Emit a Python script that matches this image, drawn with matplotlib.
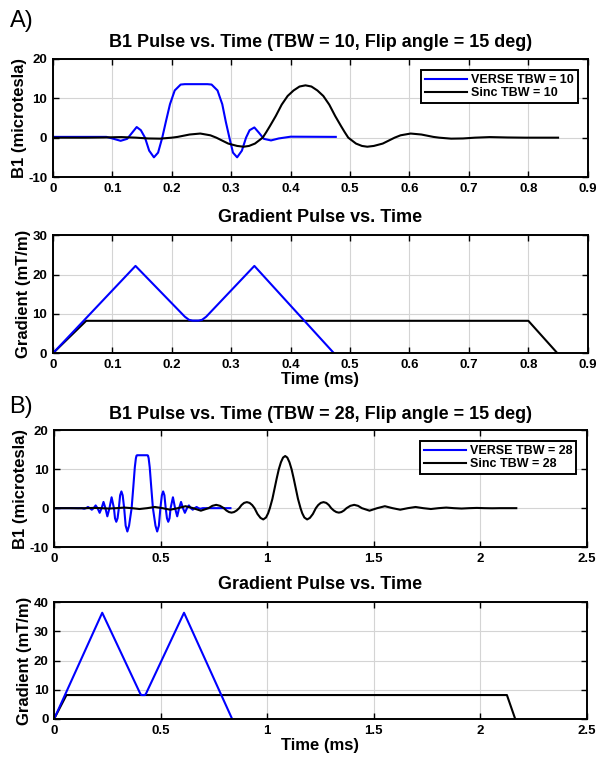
import matplotlib
matplotlib.use("Agg")
import matplotlib.pyplot as plt

plt.rcParams['font.family'] = ['Liberation Sans', 'DejaVu Sans']

# ---------------- panel A data (TBW = 10) ----------------
# VERSE B1 pulse
versA_t = [0.0, 0.09, 0.10, 0.114, 0.125, 0.133, 0.141, 0.148, 0.155, 0.162, 0.170,
           0.177, 0.184, 0.190, 0.197, 0.205, 0.215, 0.222, 0.260, 0.267, 0.277,
           0.285, 0.291, 0.297, 0.303, 0.310, 0.318, 0.325, 0.331, 0.339, 0.347,
           0.355, 0.367, 0.380, 0.400, 0.476]
versA_b1 = [0.2, 0.2, -0.2, -0.8, -0.3, 1.2, 2.7, 1.9, 0.0, -3.3, -5.0,
            -3.8, 0.0, 4.0, 8.5, 12.0, 13.5, 13.6, 13.6, 13.5, 12.0,
            8.5, 4.0, 0.0, -3.8, -5.0, -3.3, 0.0, 1.9, 2.6, 1.2,
            -0.3, -0.7, -0.2, 0.25, 0.2]

# sinc B1 pulse
sincA_t = [0.0, 0.055, 0.085, 0.115, 0.14, 0.16, 0.18, 0.20, 0.21, 0.23, 0.248,
           0.265, 0.275, 0.295, 0.31, 0.321, 0.33, 0.34, 0.353, 0.359, 0.365,
           0.375, 0.385, 0.395, 0.405, 0.415, 0.425, 0.435, 0.445, 0.455, 0.465,
           0.475, 0.485, 0.491, 0.497, 0.51, 0.52, 0.529, 0.54, 0.555, 0.575,
           0.585, 0.602, 0.62, 0.64, 0.65, 0.67, 0.69, 0.71, 0.735, 0.765,
           0.795, 0.85]
sincA_b1 = [0.0, 0.0, 0.05, 0.15, 0.0, -0.2, -0.25, 0.0, 0.2, 0.8, 1.05,
            0.6, 0.0, -1.5, -2.1, -2.3, -2.1, -1.5, 0.0, 1.4, 2.9,
            5.5, 8.4, 10.6, 12.0, 13.0, 13.3, 13.0, 12.0, 10.6, 8.4,
            5.5, 2.9, 1.4, 0.0, -1.5, -2.1, -2.3, -2.1, -1.5, 0.0,
            0.6, 1.05, 0.8, 0.2, 0.0, -0.25, -0.2, 0.0, 0.15, 0.05,
            0.0, 0.0]

versA_gt = [0.0, 0.139, 0.222, 0.229, 0.235, 0.245, 0.251, 0.258, 0.339, 0.473]
versA_g = [0.0, 22.2, 9.3, 8.5, 8.3, 8.3, 8.5, 9.3, 22.2, 0.0]
sincA_gt = [0.0, 0.056, 0.80, 0.849]
sincA_g = [0.0, 8.25, 8.25, 0.0]

# ---------------- panel B data (TBW = 28) ----------------
versB_t = [0.0, 0.130, 0.141, 0.150, 0.159, 0.168, 0.177, 0.186, 0.195, 0.204, 0.214,
           0.223, 0.232, 0.241, 0.250, 0.260, 0.270, 0.281, 0.286, 0.292, 0.298,
           0.304, 0.310, 0.316, 0.322, 0.329, 0.336, 0.344, 0.352, 0.364, 0.372,
           0.379, 0.384, 0.387, 0.390, 0.438, 0.441, 0.444, 0.449, 0.456, 0.464,
           0.476, 0.484, 0.492, 0.499, 0.506, 0.512, 0.518, 0.524, 0.530, 0.536,
           0.542, 0.547, 0.558, 0.568, 0.578, 0.587, 0.596, 0.605, 0.614, 0.624,
           0.633, 0.642, 0.651, 0.660, 0.669, 0.678, 0.687, 0.698, 0.828]
versB_b1 = [0.0, 0.0, -0.15, 0.0, 0.3, 0.0, -0.4, 0.0, 0.7, 0.0, -1.2,
            0.0, 1.6, 0.0, -2.1, 0.0, 2.8, 0.0, -2.6, -3.5, -2.6,
            0.0, 3.3, 4.3, 3.3, 0.0, -4.5, -6.0, -4.5, 0.0, 5.5,
            10.5, 12.8, 13.5, 13.6, 13.6, 13.5, 12.8, 10.5, 5.5, 0.0,
            -4.5, -6.0, -4.5, 0.0, 3.3, 4.3, 3.3, 0.0, -2.6, -3.5,
            -2.6, 0.0, 2.8, 0.0, -2.1, 0.0, 1.6, 0.0, -1.2, 0.0,
            0.7, 0.0, -0.4, 0.0, 0.3, 0.0, -0.15, 0.0, 0.0]

sincB_t = [0.0, 0.077, 0.113, 0.149, 0.185, 0.221, 0.257, 0.293, 0.329, 0.365, 0.401,
           0.437, 0.473, 0.509, 0.545, 0.581, 0.617, 0.653, 0.689, 0.725, 0.743,
           0.761, 0.779, 0.797, 0.809, 0.821, 0.833, 0.845, 0.857, 0.869, 0.880,
           0.892, 0.905, 0.918, 0.930, 0.941, 0.955, 0.969, 0.982, 0.995, 1.005,
           1.013, 1.025, 1.035, 1.045, 1.055, 1.065, 1.075, 1.085, 1.095, 1.105,
           1.115, 1.125, 1.135, 1.145, 1.157, 1.165, 1.175, 1.188, 1.201, 1.215,
           1.229, 1.240, 1.252, 1.265, 1.278, 1.290, 1.301, 1.313, 1.325, 1.337,
           1.349, 1.361, 1.373, 1.391, 1.409, 1.427, 1.445, 1.481, 1.517, 1.553,
           1.589, 1.625, 1.661, 1.697, 1.733, 1.769, 1.805, 1.841, 1.877, 1.913,
           1.949, 1.985, 2.021, 2.057, 2.093, 2.170]
sincB_b1 = [0.0, 0.0, -0.03, 0.0, 0.06, 0.0, -0.1, 0.0, 0.15, 0.0, -0.22,
            0.0, 0.3, 0.0, -0.4, 0.0, 0.5, 0.0, -0.65, 0.0, 0.6,
            0.85, 0.6, 0.0, -0.6, -1.0, -1.15, -1.0, -0.6, 0.0, 0.8,
            1.35, 1.55, 1.35, 0.8, 0.0, -1.5, -2.5, -2.9, -2.4, -1.3,
            0.0, 2.4, 5.0, 7.6, 10.0, 11.8, 13.0, 13.4, 13.0, 11.8,
            10.0, 7.6, 5.0, 2.4, 0.0, -1.3, -2.4, -2.9, -2.5, -1.5,
            0.0, 0.8, 1.35, 1.55, 1.35, 0.8, 0.0, -0.6, -1.0, -1.15,
            -1.0, -0.6, 0.0, 0.6, 0.85, 0.6, 0.0, -0.65, 0.0, 0.5,
            0.0, -0.4, 0.0, 0.3, 0.0, -0.22, 0.0, 0.15, 0.0, -0.1,
            0.0, 0.06, 0.0, -0.03, 0.0, 0.0]

versB_gt = [0.0, 0.226, 0.405, 0.410, 0.426, 0.431, 0.610, 0.836]
versB_g = [0.0, 36.4, 8.6, 8.2, 8.2, 8.6, 36.4, 0.0]
sincB_gt = [0.0, 0.058, 2.126, 2.165]
sincB_g = [0.0, 8.2, 8.2, 0.0]

# ticks and texts
xticksA = [0, 0.1, 0.2, 0.3, 0.4, 0.5, 0.6, 0.7, 0.8, 0.9]
xlabelsA = ['0', '0.1', '0.2', '0.3', '0.4', '0.5', '0.6', '0.7', '0.8', '0.9']
xticksB = [0, 0.5, 1, 1.5, 2, 2.5]
xlabelsB = ['0', '0.5', '1', '1.5', '2', '2.5']
b1_ticks = [-10, 0, 10, 20]
gradA_ticks = [0, 10, 20, 30]
gradB_ticks = [0, 10, 20, 30, 40]

titleA = 'B1 Pulse vs. Time (TBW = 10, Flip angle = 15 deg)'
titleB = 'B1 Pulse vs. Time (TBW = 28, Flip angle = 15 deg)'
gradTitle = 'Gradient Pulse vs. Time'

BLUE = '#0000ff'

fig = plt.figure(figsize=(6.01, 7.63), dpi=100)

L, W = 0.088, 0.89
axA1 = fig.add_axes([L, 0.768, W, 0.1547])
axA2 = fig.add_axes([L, 0.537, W, 0.1547])
axB1 = fig.add_axes([L + 0.002, 0.283, W - 0.004, 0.153])
axB2 = fig.add_axes([L + 0.002, 0.0577, W - 0.004, 0.153])


def styleAxes(ax, xt, xl, yt):
    ax.set_xticks(xt)
    ax.set_xticklabels(xl)
    ax.set_yticks(yt)
    ax.set_yticklabels([str(v) for v in yt])
    ax.set_xlim(xt[0], xt[-1])
    ax.set_ylim(yt[0], yt[-1])
    ax.grid(True, color='#d4d4d4', linewidth=0.8)
    ax.set_axisbelow(True)
    ax.tick_params(direction='in', top=True, right=True, length=4,
                   width=1.0, labelsize=9.5, pad=4)
    for lab in ax.get_xticklabels() + ax.get_yticklabels():
        lab.set_fontweight('bold')
    for sp in ax.spines.values():
        sp.set_linewidth(1.4)


# B1 plots
for ax, vt, vb, st, sb, tt, xt, xl, tbw in [
        (axA1, versA_t, versA_b1, sincA_t, sincA_b1, titleA, xticksA, xlabelsA, 10),
        (axB1, versB_t, versB_b1, sincB_t, sincB_b1, titleB, xticksB, xlabelsB, 28)]:
    ax.plot(vt, vb, color=BLUE, lw=1.5, label='VERSE TBW = %i' % tbw)
    ax.plot(st, sb, color='black', lw=1.5, label='Sinc TBW = %i' % tbw)
    styleAxes(ax, xt, xl, b1_ticks)
    ax.set_title(tt, fontsize=13, fontweight='bold', pad=8.5)
    ax.set_ylabel('B1 (microtesla)', fontsize=12, fontweight='bold', labelpad=1)
    leg = ax.legend(loc='upper right', bbox_to_anchor=(0.981, 0.905),
                    fontsize=9, fancybox=False, framealpha=1,
                    edgecolor='black', handlelength=3.4, borderpad=0.3,
                    labelspacing=0.1, handletextpad=0.3, borderaxespad=0)
    leg.get_frame().set_linewidth(1.4)
    for t in leg.get_texts():
        t.set_fontweight('bold')

# gradient plots
for ax, vt, vg, st, sg, xt, xl, yt in [
        (axA2, versA_gt, versA_g, sincA_gt, sincA_g, xticksA, xlabelsA, gradA_ticks),
        (axB2, versB_gt, versB_g, sincB_gt, sincB_g, xticksB, xlabelsB, gradB_ticks)]:
    ax.plot(st, sg, color='black', lw=1.5)
    ax.plot(vt, vg, color=BLUE, lw=1.5)
    styleAxes(ax, xt, xl, yt)
    ax.set_title(gradTitle, fontsize=13, fontweight='bold', pad=9.5)
    ax.set_ylabel('Gradient (mT/m)', fontsize=12, fontweight='bold', labelpad=1)
    ax.set_xlabel('Time (ms)', fontsize=12, fontweight='bold', labelpad=1)

fig.text(0.016, 0.972, 'A)', fontsize=17, va='center', ha='left')
fig.text(0.016, 0.467, 'B)', fontsize=17, va='center', ha='left')

fig.savefig('out.png', dpi=100)
